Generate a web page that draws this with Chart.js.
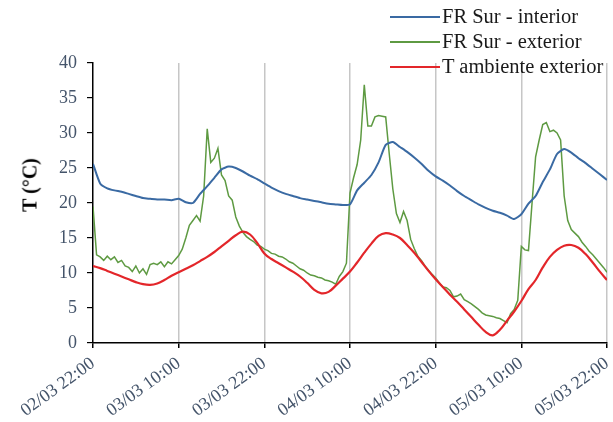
<!DOCTYPE html>
<html>
<head>
<meta charset="utf-8">
<script src="https://cdn.jsdelivr.net/npm/chart.js@4.4.1/dist/chart.umd.min.js"></script>
<style>
  html, body { margin:0; padding:0; background:#fff; }
  #wrap { position:relative; width:613px; height:422px; }
  #legend { position:absolute; left:390px; top:4px; font-family:"Liberation Serif", serif; font-size:20.5px; color:#1a1a1a; }
  .row { position:relative; height:25px; line-height:25px; white-space:nowrap; }
  .sw { position:absolute; left:0; top:12px; width:50px; height:0; border-top:2px solid; }
  .lbl { position:absolute; left:52px; top:0; }
  #ytitle { position:absolute; left:30px; top:185px; transform:translate(-50%,-50%) rotate(-90deg); font-family:"Liberation Serif", serif; font-weight:bold; font-size:20px; color:#000; white-space:nowrap; }
</style>
</head>
<body>
<div id="wrap">
  <canvas id="c" width="613" height="422"></canvas>
  <div id="ytitle">T (°C)</div>
  <div id="legend"></div>
</div>
<script>
// ---- data ----
const seriesNames = ['FR Sur - interior', 'FR Sur - exterior', 'T ambiente exterior'];
const tickLabels = ['02/03 22:00','03/03 10:00','03/03 22:00','04/03 10:00','04/03 22:00','05/03 10:00','05/03 22:00'];
const tickStepHours = 12;
const hourlyStep = 1;      // hours between samples (interior, ambiente)
const greenStep = 0.5;     // hours between samples (exterior)

const interiorValues = [
  25.6,22.8,22.1,21.8,21.6,21.3,21.0,20.7,20.6,20.5,20.5,20.4,20.6,20.1,20.0,21.3,22.4,23.6,24.8,25.2,
  25.0,24.5,23.9,23.4,22.8,22.2,21.7,21.3,21.0,20.7,20.5,20.3,20.1,19.9,19.8,19.7,19.8,21.8,22.9,24.0,
  25.8,28.3,28.7,28.0,27.3,26.5,25.6,24.6,23.8,23.2,22.5,21.7,21.0,20.4,19.8,19.3,18.9,18.6,18.2,17.7,
  18.4,19.9,21.0,23.0,24.8,27.0,27.7,27.2,26.4,25.7,24.9,24.1,23.3
];
const ambienteValues = [
  11.0,10.7,10.3,9.9,9.5,9.1,8.7,8.4,8.3,8.5,9.0,9.6,10.1,10.6,11.1,11.7,12.3,13.0,13.8,14.6,
  15.4,15.9,15.5,14.3,12.8,12.0,11.4,10.8,10.2,9.5,8.6,7.6,7.1,7.3,8.2,9.2,10.2,11.5,12.9,14.2,
  15.3,15.7,15.5,15.0,14.0,12.9,11.6,10.3,9.1,8.0,6.9,5.9,4.8,3.7,2.6,1.6,1.1,1.9,3.2,4.5,
  6.0,7.7,9.0,10.8,12.3,13.3,13.9,14.0,13.6,12.7,11.5,10.2,9.0
];
const exteriorValues = [
  19.5,12.6,12.3,11.8,12.4,11.9,12.3,11.5,11.8,11.0,10.8,10.2,11.0,10.0,10.6,9.8,11.2,11.4,11.2,11.6,
  10.9,11.6,11.3,11.9,12.5,13.4,15.0,16.8,17.5,18.2,17.4,21.0,30.6,25.8,26.4,27.8,24.0,23.2,21.0,20.4,
  18.0,16.7,15.8,15.2,14.8,14.5,14.0,13.8,13.4,13.2,12.8,12.7,12.4,12.3,12.0,11.6,11.4,11.0,10.6,10.4,
  10.0,9.7,9.6,9.4,9.3,9.0,8.9,8.7,8.4,9.5,10.2,11.4,21.4,23.6,25.5,29.0,36.9,31.0,31.0,32.3,
  32.5,32.4,32.3,27.0,22.0,18.5,17.2,18.8,17.5,14.8,13.5,12.4,11.8,11.0,10.4,9.8,9.3,8.6,8.0,7.9,
  7.5,6.6,6.7,7.0,6.2,5.9,5.6,5.2,4.8,4.3,4.0,3.9,3.8,3.6,3.5,3.2,2.9,4.2,4.8,6.1,
  13.8,13.3,13.2,20.0,26.6,29.0,31.2,31.5,30.2,30.4,30.0,29.0,21.0,17.5,16.2,15.7,15.2,14.4,13.8,13.1,
  12.6,12.0,11.4,10.8,10.1
];
const colors = ['#3a6aa3', '#5e9a42', '#e3262a'];

// ---- build ----
const toPts = (vals, step) => vals.map((v, i) => ({ x: i * step, y: v }));
const FONT = '"Liberation Serif", serif';
const maxHours = tickStepHours * (tickLabels.length - 1);

const chart = new Chart(document.getElementById('c'), {
  type: 'line',
  data: {
    datasets: [
      { label: seriesNames[0], data: toPts(interiorValues, hourlyStep), borderColor: colors[0], borderWidth: 2, pointRadius: 0, tension: 0.2, order: 2 },
      { label: seriesNames[1], data: toPts(exteriorValues, greenStep), borderColor: colors[1], borderWidth: 1.5, pointRadius: 0, tension: 0, order: 3 },
      { label: seriesNames[2], data: toPts(ambienteValues, hourlyStep), borderColor: colors[2], borderWidth: 2.2, pointRadius: 0, tension: 0.4, order: 1 }
    ]
  },
  options: {
    responsive: false,
    animation: false,
    events: [],
    layout: { padding: { top: 63, right: 6, left: 0, bottom: 0 } },
    plugins: { legend: { display: false }, tooltip: { enabled: false } },
    scales: {
      x: {
        type: 'linear', min: 0, max: maxHours,
        afterFit: s => { s.height = 79; s.paddingLeft = 0; s.paddingRight = 0; },
        ticks: {
          stepSize: tickStepHours,
          callback: v => tickLabels[Math.round(v / tickStepHours)],
          minRotation: 36, maxRotation: 36,
          font: { family: FONT, size: 18 }, color: '#44546a', padding: 5
        },
        grid: {
          color: ctx => (ctx.tick && ctx.tick.value === 0) ? 'rgba(0,0,0,0)' : '#c6c6c6',
          lineWidth: 1.5, tickColor: '#000', tickLength: 5, drawOnChartArea: true
        },
        border: { color: '#000', width: 1.5 }
      },
      y: {
        min: 0, max: 40,
        afterFit: s => { s.width = 93; s.paddingTop = 0; s.paddingBottom = 0; },
        ticks: { stepSize: 5, font: { family: FONT, size: 18 }, color: '#44546a', padding: 10 },
        grid: { drawOnChartArea: false, color: '#000', tickLength: 6, lineWidth: 1.2 },
        border: { color: '#000', width: 1.5 }
      }
    }
  }
});

// HTML legend
const lg = document.getElementById('legend');
seriesNames.forEach((n, i) => {
  const r = document.createElement('div'); r.className = 'row';
  const sw = document.createElement('div'); sw.className = 'sw'; sw.style.borderTopColor = colors[i];
  const t = document.createElement('span'); t.className = 'lbl'; t.textContent = n;
  r.appendChild(sw); r.appendChild(t); lg.appendChild(r);
});
</script>
</body>
</html>
